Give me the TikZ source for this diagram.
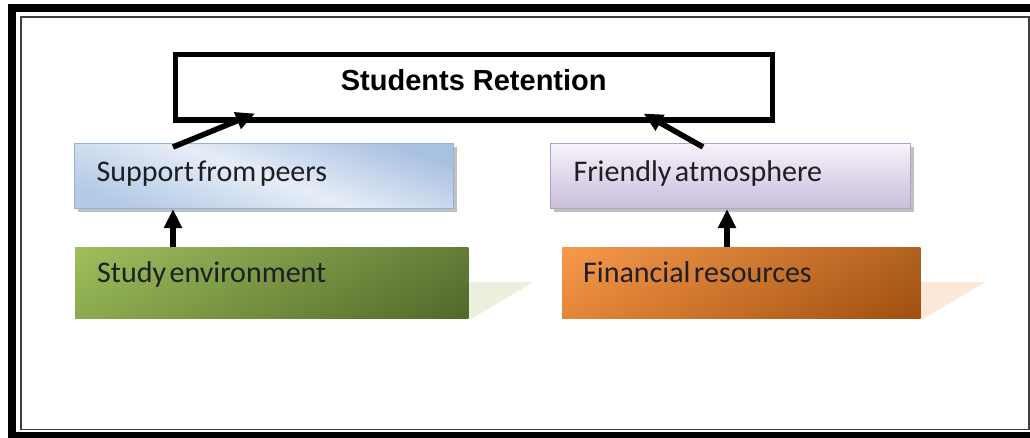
\documentclass[tikz,border=0pt]{standalone}
\usepackage{fontspec}
\setmainfont{Carlito}
\newfontfamily\titlefont{Liberation Sans}
\usetikzlibrary{arrows.meta,calc,shadows,backgrounds}
\protected\def\tightspace{\spaceskip=3.5pt plus 1pt minus 0.5pt\relax}
\definecolor{blueA}{HTML}{A9C1E1}
\definecolor{blueL}{HTML}{E6EDF7}
\definecolor{blueB}{HTML}{B4CAE6}
\definecolor{blueD}{HTML}{95B3D7}
\definecolor{purT}{HTML}{F6F3F9}
\definecolor{purB}{HTML}{C9BDDC}
\definecolor{purD}{HTML}{B2A1C7}
\definecolor{grnL}{HTML}{A0BF5E}
\definecolor{grnM}{HTML}{6E8D36}
\definecolor{grnD}{HTML}{3E5120}
\definecolor{grnS}{HTML}{EBF1DE}
\definecolor{orgL}{HTML}{F79A4C}
\definecolor{orgM}{HTML}{C9691F}
\definecolor{orgD}{HTML}{853E04}
\definecolor{orgS}{HTML}{FDE9D9}
\definecolor{txt}{HTML}{1E1E24}
\pgfdeclarehorizontalshading{hgrn}{100bp}{color(0bp)=(grnL); color(25bp)=(grnL); color(75bp)=(grnD); color(100bp)=(grnD)}
\pgfdeclarehorizontalshading{horg}{100bp}{color(0bp)=(orgL); color(25bp)=(orgL); color(75bp)=(orgD); color(100bp)=(orgD)}
\tikzset{
  arr/.style={line width=5.5pt, black, -{Triangle[length=19pt,width=17pt]}},
  toplabel/.style={anchor=north west, fill=white, draw=black, line width=5.5pt,
    minimum width=597pt, inner sep=0pt, text height=36.5pt, text depth=29pt,
    font=\titlefont\bfseries\fontsize{29}{30}\selectfont, text=black},
  factor/.style={anchor=north west, inner ysep=0pt, align=left,
    font=\fontsize{30}{30}\selectfont, text=txt},
  topfactor/.style={factor, text height=38pt, text depth=27pt, line width=1pt,
    drop shadow={shadow xshift=3pt, shadow yshift=-3pt, opacity=0.45, fill=black!55}},
  botfactor/.style={factor, text height=35pt, text depth=36pt},
  overlay shade/.style={shading=#1, shading angle=0, opacity=0.6}
}
\begin{document}
\begin{tikzpicture}[x=1pt,y=-1pt]
\useasboundingbox (0,0) rectangle (1030,437);
\clip (0,0) rectangle (1030,437);
% frame
\draw[line width=8pt, black] (12,8) rectangle (1042,436);
\draw[line width=1.6pt, black!75] (21,17) rectangle (1029,429.5);
% title
\node[toplabel] (title) at (172.5,51.5) {Students Retention};
% top factors
\node[topfactor, draw=blueD, top color=blueA, bottom color=blueB, middle color=blueL,
      shading angle=-20,
      minimum width=379pt, text width=335pt, inner xsep=22pt] (sup) at (74,143) {\tightspace Support from peers};
\node[topfactor, draw=purD, top color=purT, bottom color=purB,
      minimum width=360pt, text width=314pt, inner xsep=23pt] (fri) at (550,143) {\tightspace Friendly atmosphere};
% bottom factors (text nodes; their fills are drawn on the background layer)
\node[botfactor, minimum width=393pt, text width=349pt, inner xsep=22pt] (env) at (75,247) {\tightspace Study environment};
\node[botfactor, minimum width=358pt, text width=316pt, inner xsep=21pt] (fin) at (562,247) {\tightspace Financial resources};
\begin{pgfonlayer}{background}
  % skew shadows of bottom factors
  \fill[grnS] ($(env.north east)+(-10,35)$) -- ($(env.north east)+(65,35)$) -- ($(env.south east)+(2,1)$) -- ($(env.south east)+(-10,1)$) -- cycle;
  \fill[orgS] ($(fin.north east)+(-10,35)$) -- ($(fin.north east)+(65,35)$) -- ($(fin.south east)+(2,1)$) -- ($(fin.south east)+(-10,1)$) -- cycle;
  % fills of bottom factors
  \shade[top color=grnL, bottom color=grnM] (env.north west) rectangle (env.south east);
  \shade[overlay shade=hgrn] (env.north west) rectangle (env.south east);
  \shade[top color=orgL, bottom color=orgM] (fin.north west) rectangle (fin.south east);
  \shade[overlay shade=horg] (fin.north west) rectangle (fin.south east);
\end{pgfonlayer}
% connectors
\draw[arr] ($(env.north west)+(98,0)$) -- ($(sup.south west)+(99,0)$);
\draw[arr] ($(fin.north west)+(165,0)$) -- ($(fri.south west)+(177,0)$);
\draw[arr] ($(sup.north west)+(99,4)$) -- ($(title.south west)+(82.5,-9)$);
\draw[arr] ($(fri.north west)+(153,4)$) -- ($(title.south east)+(-131.5,-9)$);
\end{tikzpicture}
\end{document}
